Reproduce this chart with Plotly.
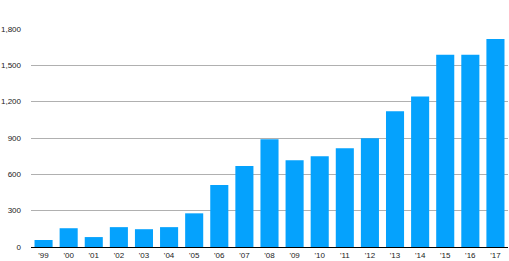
import plotly.graph_objects as go

years = ["'99", "'00", "'01", "'02", "'03", "'04", "'05", "'06", "'07", "'08",
         "'09", "'10", "'11", "'12", "'13", "'14", "'15", "'16", "'17"]
values = [58, 155, 82, 164, 147, 164, 278, 512, 668, 890,
          717, 750, 816, 898, 1120, 1243, 1587, 1587, 1718]
ytick_vals = [0, 300, 600, 900, 1200, 1500, 1800]
ytick_text = ["0", "300", "600", "900", "1,200", "1,500", "1,800"]

fig = go.Figure(go.Bar(x=years, y=values, marker_color="#05A2FD",
                       marker_line_width=0))
fig.update_layout(
    width=509, height=261,
    margin=dict(l=30, r=1, t=29, b=12),
    paper_bgcolor="white", plot_bgcolor="white",
    bargap=0.28, showlegend=False,
    font=dict(family="Liberation Sans, Arial, sans-serif", size=8, color="#222222"),
)
fig.update_xaxes(showline=True, linecolor="black", linewidth=1, ticks="",
                 showgrid=False, tickfont=dict(size=8), ticklabelstandoff=0)
fig.update_yaxes(range=[0, 1800], tickvals=ytick_vals, ticktext=ytick_text,
                 showgrid=True, gridcolor="#b0b0b0", gridwidth=1,
                 zeroline=False, ticks="", ticklabelstandoff=9,
                 tickfont=dict(size=8))
fig.write_html("out.html")
